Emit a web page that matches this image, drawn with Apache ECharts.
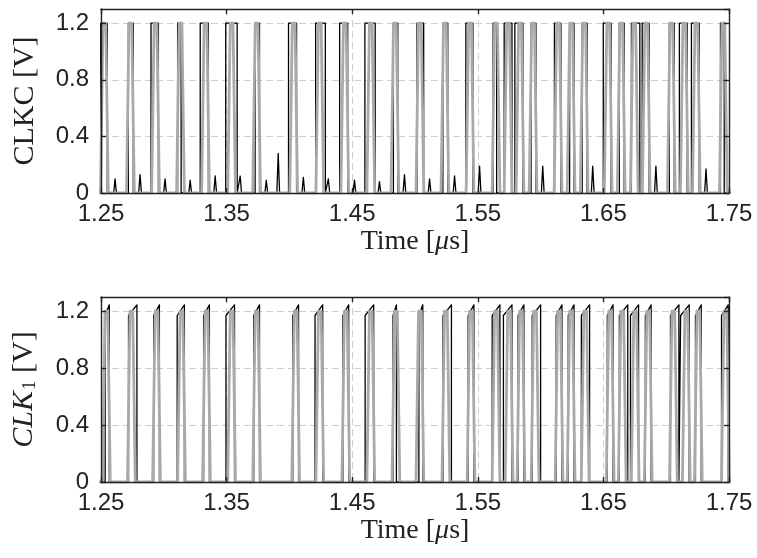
<!DOCTYPE html>
<html>
<head>
<meta charset="utf-8">
<script src="https://cdn.jsdelivr.net/npm/echarts@6/dist/echarts.min.js"></script>
<style>
  html, body { margin: 0; padding: 0; background: #ffffff; }
  #chart { width: 757px; height: 558px; }
</style>
</head>
<body>
<div id="chart"></div>
<script>
// Time window (µs) and tick labels
const T0 = 1.25;
const T1 = 1.75;
const xTickLabels = ['1.25', '1.35', '1.45', '1.55', '1.65', '1.75'];
const yTickValues = [0, 0.4, 0.8, 1.2];
const VDD = 1.2;

// ---- CLKC ----
// grey trace: start of each pulse's rising edge (µs)
const clkcPulseStart = [
  1.2496, 1.2703, 1.2903, 1.3102, 1.3301, 1.3509, 1.3708, 1.4003, 1.4211, 1.4410,
  1.4617, 1.4809, 1.5008, 1.5207, 1.5407, 1.5614, 1.5710, 1.5805, 1.5909, 1.6108,
  1.6212, 1.6316, 1.6507, 1.6611, 1.6715, 1.6810, 1.7010, 1.7113, 1.7209, 1.7424
];
// black trace: rising / falling edge shift against the grey pulse (ns)
const clkcBlackRiseNs = [
  0.2, 1.5, -0.5, 0.8, -1.1, -1.6, 1.9, -1.0, -0.2, -1.0,
  -1.6, 1.9, 0.8, 1.5, -0.2, 0.8, 0.0, -1.0, 1.5, 0.2,
  1.9, 1.5, -0.8, 1.6, 0.8, -0.1, 1.5, -0.8, -0.8, 0.8
];
const clkcBlackFallNs = [
  1.2, 1.2, 1.2, -0.6, 1.2, 3.3, 1.2, 1.2, 3.3, 1.2,
  2.4, 1.2, 1.9, 1.2, 1.2, -0.6, 2.0, 1.2, 1.2, 1.2,
  1.2, 1.2, 1.2, 1.2, 3.3, 1.2, 1.2, 1.2, 1.2, -0.4
];
// black trace: small glitches while low (time µs, peak V)
const clkcGlitchT = [
  1.2612, 1.2811, 1.3010, 1.3210, 1.3409, 1.3608, 1.3816, 1.3911, 1.4111, 1.4310,
  1.4518, 1.4717, 1.4916, 1.5116, 1.5315, 1.5514, 1.6017, 1.6415, 1.6918, 1.7317
];
const clkcGlitchV = [
  0.10, 0.13, 0.10, 0.09, 0.12, 0.12, 0.09, 0.28, 0.11, 0.10,
  0.09, 0.08, 0.13, 0.10, 0.12, 0.19, 0.19, 0.19, 0.19, 0.17
];

// ---- CLK1 ----
const clk1PulseStart = [
  1.2512, 1.2711, 1.2911, 1.3110, 1.3309, 1.3509, 1.3708, 1.4019, 1.4211, 1.4418,
  1.4617, 1.4817, 1.5008, 1.5215, 1.5415, 1.5614, 1.5718, 1.5813, 1.5925, 1.6116,
  1.6212, 1.6324, 1.6523, 1.6619, 1.6722, 1.6826, 1.7026, 1.7129, 1.7225, 1.7440
];
const clk1BlackRiseNs = [
  2.1, 0.8, 0.8, -0.35, 0.8, -1.4, 0.8, 0.8, -0.7, 0.8,
  -1.4, 0.8, 2.3, 0.8, 0.8, 0.05, -1.4, 0.8, 0.8, 0.8,
  0.8, 0.05, 0.8, 0.8, -0.65, 0.8, 0.8, -1.4, 0.8, 0.05
];
const clk1BlackFallNs = [
  1.2, 3.3, 1.2, 1.2, 1.2, 1.2, 1.2, 1.2, 1.2, 1.2,
  1.2, -0.7, 1.2, 3.3, 1.2, 2.0, 1.2, 1.2, 3.3, 1.2,
  1.2, 2.4, 1.2, 3.3, 1.6, 1.2, 3.3, 1.2, 1.2, 1.2
];

// edge shape (ns)
const EDGE_NS = 2.0;   // grey rise / fall time
const HIGH_NS = 2.2;   // grey time spent at VDD
const GLITCH_NS = 1.1; // half width of a glitch
const NS = 1e-3;

// waveform point helpers; x is plotted as time since T0
function pt(t, v) { return [t - T0, v]; }

function greyWave(starts) {
  const pts = [pt(T0 - 0.01, 0)];
  starts.forEach(s => {
    pts.push(pt(s, 0));
    pts.push(pt(s + EDGE_NS * NS, VDD));
    pts.push(pt(s + (EDGE_NS + HIGH_NS) * NS, VDD));
    pts.push(pt(s + (2 * EDGE_NS + HIGH_NS) * NS, 0));
  });
  pts.push(pt(T1 + 0.01, 0));
  return pts;
}

function blackWave(starts, riseNs, fallNs, glitchT, glitchV, overshoot) {
  const groups = [];
  starts.forEach((s, i) => {
    const tr = s + riseNs[i] * NS;
    const tf = s + (EDGE_NS + HIGH_NS + fallNs[i]) * NS;
    if (overshoot) {
      groups.push([pt(tr, 0), pt(tr, 1.17), pt(tf, 1.245), pt(tf, 0)]);
    } else {
      groups.push([pt(tr, 0), pt(tr, VDD), pt(tf, VDD), pt(tf, 0)]);
    }
  });
  (glitchT || []).forEach((t, i) => {
    groups.push([pt(t - GLITCH_NS * NS, 0), pt(t, glitchV[i]), pt(t + GLITCH_NS * NS, 0)]);
  });
  groups.sort((a, b) => a[0][0] - b[0][0]);
  const pts = [pt(T0 - 0.01, 0)];
  groups.forEach(g => g.forEach(p => pts.push(p)));
  pts.push(pt(T1 + 0.01, 0));
  return pts;
}

const FRAME = '#222222';
const GRID_LINE = '#cfcfcf';
const GREY = '#a9a9a9';

const grids = [
  { left: 101, top: 9, width: 628, height: 184 },
  { left: 101, top: 297, width: 628, height: 185 }
];

function xLabel(v) {
  const i = Math.round(v / 0.1);
  return xTickLabels[i] !== undefined ? xTickLabels[i] : '';
}
function yLabel(v) {
  const hit = yTickValues.find(y => Math.abs(y - v) < 1e-6);
  return hit === undefined ? '' : String(hit);
}

const xAxes = [];
const yAxes = [];
const yNames = [
  { text: 'CLKC [V]' },
  { text: '{i|CLK}{s|1} [V]' }
];

grids.forEach((g, gi) => {
  const common = { gridIndex: gi, type: 'value', min: 0, max: T1 - T0, interval: 0.1 };
  // bottom: frame, ticks, labels, title
  xAxes.push(Object.assign({}, common, {
    position: 'bottom', z: 10,
    axisLine: { show: true, onZero: false, lineStyle: { color: FRAME, width: 1.4 } },
    axisTick: { show: true, inside: true, length: 5, lineStyle: { color: FRAME, width: 1.4 } },
    axisLabel: { show: true, margin: 9, fontSize: 24, fontFamily: 'Liberation Sans', color: '#222',
                 formatter: xLabel, showMinLabel: true, showMaxLabel: true, hideOverlap: false },
    splitLine: { show: false },
    name: 'Time [{i|μ}s]', nameLocation: 'middle', nameGap: 35,
    nameTextStyle: { fontFamily: 'Liberation Serif', fontSize: 28, color: '#222',
                     rich: { i: { fontFamily: 'Liberation Serif', fontSize: 28, fontStyle: 'italic', color: '#222' } } }
  }));
  // top: frame and ticks
  xAxes.push(Object.assign({}, common, {
    position: 'top', z: 10,
    axisLine: { show: true, onZero: false, lineStyle: { color: FRAME, width: 1.4 } },
    axisTick: { show: true, inside: true, length: 5, lineStyle: { color: FRAME, width: 1.4 } },
    axisLabel: { show: false }, splitLine: { show: false }
  }));
  // dashed vertical grid, beneath the traces
  xAxes.push(Object.assign({}, common, {
    position: 'bottom', z: 0,
    axisLine: { show: false }, axisTick: { show: false }, axisLabel: { show: false },
    splitLine: { show: true, lineStyle: { color: GRID_LINE, width: 1, type: [7, 4] } }
  }));

  const yc = { gridIndex: gi, type: 'value', min: 0, max: 1.3, interval: 0.4 };
  yAxes.push(Object.assign({}, yc, {
    position: 'left', z: 10,
    axisLine: { show: true, onZero: false, lineStyle: { color: FRAME, width: 1.4 } },
    axisTick: { show: true, inside: true, length: 5, lineStyle: { color: FRAME, width: 1.4 } },
    axisLabel: { show: true, margin: 12, fontSize: 24, fontFamily: 'Liberation Sans', color: '#222',
                 formatter: yLabel, showMaxLabel: false },
    splitLine: { show: false },
    name: yNames[gi].text, nameLocation: 'middle', nameGap: 61, nameRotate: 90,
    nameTextStyle: { fontFamily: 'Liberation Serif', fontSize: 30, color: '#222',
                     rich: {
                       i: { fontFamily: 'Liberation Serif', fontSize: 30, fontStyle: 'italic', color: '#222' },
                       s: { fontFamily: 'Liberation Serif', fontSize: 19, color: '#222', verticalAlign: 'bottom', padding: [12, 0, 0, 1] }
                     } }
  }));
  yAxes.push(Object.assign({}, yc, {
    position: 'right', z: 10,
    axisLine: { show: true, onZero: false, lineStyle: { color: FRAME, width: 1.4 } },
    axisTick: { show: true, inside: true, length: 5, lineStyle: { color: FRAME, width: 1.4 } },
    axisLabel: { show: false }, splitLine: { show: false }
  }));
  yAxes.push(Object.assign({}, yc, {
    position: 'left', z: 0,
    axisLine: { show: false }, axisTick: { show: false }, axisLabel: { show: false },
    splitLine: { show: true, lineStyle: { color: GRID_LINE, width: 1, type: [7, 4] } }
  }));
});

function trace(gi, data, color, width, z) {
  return {
    type: 'line', xAxisIndex: gi * 3, yAxisIndex: gi * 3, data: data,
    showSymbol: false, symbol: 'none', clip: true, silent: true, z: z,
    lineStyle: { color: color, width: width, join: 'round' }
  };
}

const series = [
  trace(0, blackWave(clkcPulseStart, clkcBlackRiseNs, clkcBlackFallNs, clkcGlitchT, clkcGlitchV, false), '#000', 1.3, 2),
  trace(0, greyWave(clkcPulseStart), GREY, 2.8, 3),
  trace(1, blackWave(clk1PulseStart, clk1BlackRiseNs, clk1BlackFallNs, null, null, true), '#000', 1.3, 2),
  trace(1, greyWave(clk1PulseStart), GREY, 2.8, 3)
];

const chart = echarts.init(document.getElementById('chart'), null, { renderer: 'canvas' });
chart.setOption({
  animation: false,
  backgroundColor: '#ffffff',
  grid: grids,
  xAxis: xAxes,
  yAxis: yAxes,
  series: series
});
</script>
</body>
</html>
